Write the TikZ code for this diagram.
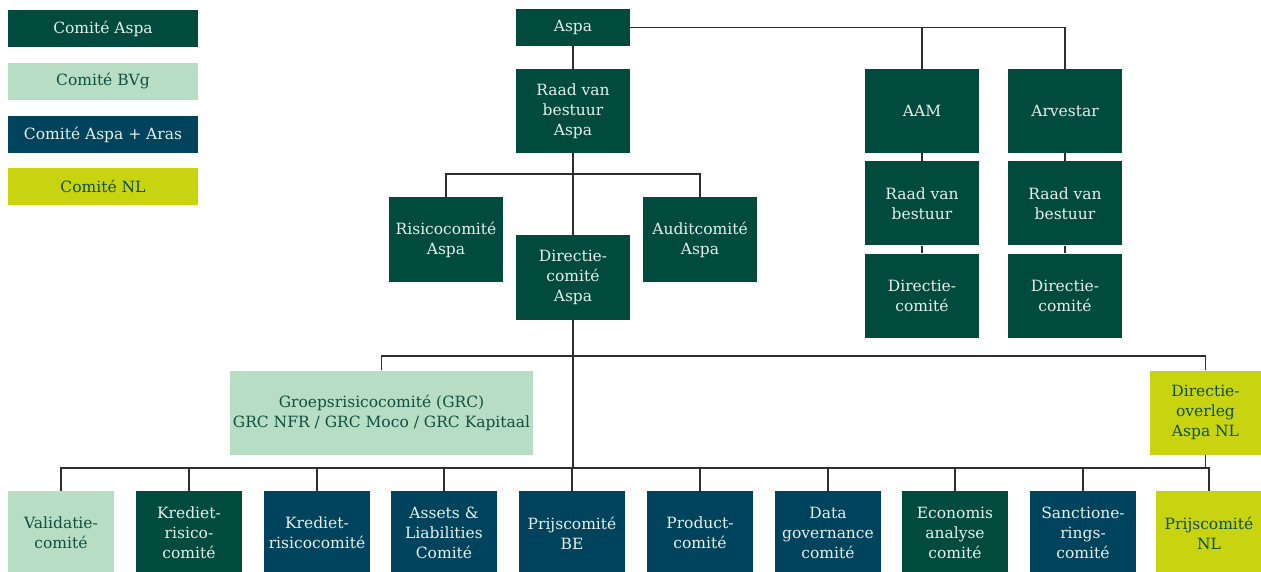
\documentclass[tikz,border=0pt]{standalone}
\usepackage{fontspec}
\setmainfont{DejaVu Serif}
\definecolor{aspagreen}{HTML}{004B3E}
\definecolor{bvggreen}{HTML}{B7DDC5}
\definecolor{arasblue}{HTML}{00435C}
\definecolor{nllime}{HTML}{C8D40F}
\definecolor{lighttext}{HTML}{E6F0EA}
\definecolor{darktext}{HTML}{104F40}
\definecolor{linegray}{HTML}{2E2E2E}
\begin{document}
\begin{tikzpicture}[
  x=1pt, y=-1pt,
  box/.style={rectangle,inner sep=0pt,align=center,font=\fontsize{15.5}{20}\selectfont},
  aspa/.style={box,fill=aspagreen,text=lighttext},
  bvg/.style={box,fill=bvggreen,text=darktext},
  aras/.style={box,fill=arasblue,text=lighttext},
  nl/.style={box,fill=nllime,text=darktext},
  legend/.style={minimum width=190pt,minimum height=37pt},
  wide/.style={minimum width=114pt,minimum height=84pt},
  small/.style={minimum width=106pt,minimum height=84pt},
  link/.style={draw=linegray,line width=1.6pt}
]
\useasboundingbox (0,0) rectangle (1261,572);

% ===== LEGEND =====
\node[aspa,legend] (leg_aspa) at (103,28.5) {Comité Aspa};
\node[bvg,legend] (leg_bvg) at (103,81.5) {Comité BVg};
\node[aras,legend] (leg_aras) at (103,134.5) {Comité Aspa + Aras};
\node[nl,legend] (leg_nl) at (103,186.5) {Comité NL};

% ===== ASPA =====
\node[aspa,minimum width=114pt,minimum height=37pt] (aspa) at (573,27.5) {Aspa};
\node[aspa,wide] (rvb_aspa) at (573,111) {Raad van\\bestuur\\Aspa};
\node[aspa,wide] (risico_aspa) at (446,239.5) {Risicocomité\\Aspa};
\node[aspa,wide] (audit_aspa) at (700,239.5) {Auditcomité\\Aspa};
\node[aspa,wide] (dir_aspa) at (573,277.5) {Directie-\\comité\\Aspa};

\draw[link] (aspa) -- (rvb_aspa);
\coordinate (split_rvb) at (573,174);
\draw[link] (rvb_aspa) -- (dir_aspa);
\draw[link] (risico_aspa.north) |- (split_rvb) -| (audit_aspa.north);

% ===== AAM / ARVESTAR =====
\node[aspa,wide] (aam) at (922,111) {AAM};
\node[aspa,wide] (rvb_aam) at (922,203.5) {Raad van\\bestuur};
\node[aspa,wide] (dir_aam) at (922,295.5) {Directie-\\comité};
\node[aspa,wide] (arvestar) at (1065,111) {Arvestar};
\node[aspa,wide] (rvb_arv) at (1065,203.5) {Raad van\\bestuur};
\node[aspa,wide] (dir_arv) at (1065,295.5) {Directie-\\comité};

\draw[link] (aspa.east) -| (arvestar.north);
\draw[link] (aam.north) -- (aam.north |- aspa.east);
\draw[link] (aam) -- (rvb_aam);
\draw[link] (rvb_aam) -- (dir_aam);
\draw[link] (arvestar) -- (rvb_arv);
\draw[link] (rvb_arv) -- (dir_arv);

% ===== GROUP LEVEL =====
\node[bvg,minimum width=303pt,minimum height=84pt] (grc) at (381.5,412.5)
  {Groepsrisicocomité (GRC)\\GRC NFR / GRC Moco / GRC Kapitaal};
\node[nl,minimum width=111pt,minimum height=84pt] (dir_nl) at (1205.5,412.5)
  {Directie-\\overleg\\Aspa NL};

\coordinate (split_dir) at (573,356);
\coordinate (split_com) at (573,468);
\draw[link] (dir_aspa) -- (split_dir);
\draw[link] (grc.north) |- (split_dir) -| (dir_nl.north);
\draw[link] (split_dir) -- (split_com);

% ===== COMMITTEES =====
\node[bvg,small] (validatie) at (61,533) {Validatie-\\comité};
\node[aspa,small] (krediet_a) at (189,533) {Krediet-\\risico-\\comité};
\node[aras,small] (krediet_b) at (317,533) {Krediet-\\risicocomité};
\node[aras,small] (alco) at (444,533) {Assets \&\\Liabilities\\Comité};
\node[aras,small] (prijs_be) at (572,533) {Prijscomité\\BE};
\node[aras,small] (product) at (700,533) {Product-\\comité};
\node[aras,small] (data_gov) at (828,533) {Data\\governance\\comité};
\node[aspa,small] (economis) at (955,533) {Economis\\analyse\\comité};
\node[aras,small] (sanctie) at (1083,533) {Sanctione-\\rings-\\comité};
\node[nl,small] (prijs_nl) at (1209,533) {Prijscomité\\NL};

\draw[link] (validatie.north) |- (split_com) -| (prijs_nl.north);
\draw[link] (dir_nl) -- (dir_nl.south |- split_com);
\foreach \n in {krediet_a,krediet_b,alco,prijs_be,product,data_gov,economis,sanctie}
  \draw[link] (\n.north) -- (\n.north |- split_com);

\end{tikzpicture}
\end{document}
